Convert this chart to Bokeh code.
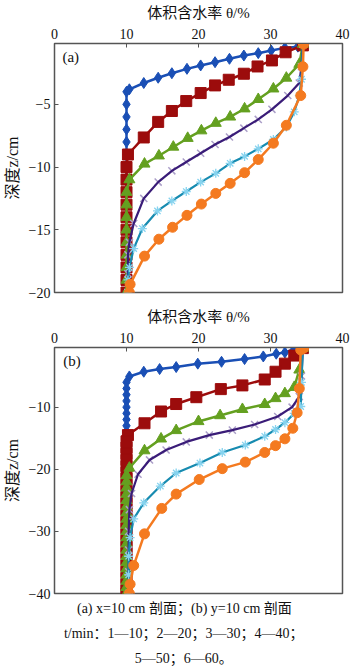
from bokeh.plotting import figure
from bokeh.layouts import column
from bokeh.models import Range1d, FixedTicker, Label, ColumnDataSource
from bokeh.core.properties import value
from bokeh.embed import file_html
from bokeh.resources import INLINE

# ---------------- data: panel (a) x=10 cm profile ----------------
x_ticks = [0, 10, 20, 30, 40]
a_yticks = [-20, -15, -10, -5]
a_ylabels = ["\u221220", "\u221215", "\u221210", "\u22125"]
b_yticks = [-40, -30, -20, -10]
b_ylabels = ["\u221240", "\u221230", "\u221220", "\u221210"]

a1_x = [34.5, 33.8, 32.0, 30.1, 28.3, 26.3, 24.3, 22.3, 20.3, 18.4, 16.3, 14.4, 12.4, 10.4, 10.0, 10.0, 10.0, 10.0, 10.0, 10.0, 10.0, 10.0, 10.0, 10.0, 10.0, 10.0, 10.0, 10.0, 10.0, 10.0, 10.0, 10.0]
a1_z = [-0.2, -0.4, -0.5, -0.71, -0.92, -1.11, -1.37, -1.64, -1.9, -2.17, -2.52, -2.88, -3.3, -3.8, -4, -5, -6, -7, -8, -9, -10, -11, -12, -13, -14, -15, -16, -17, -18, -19, -20, -20]

a2_x = [34.5, 32.1, 30.2, 28.2, 26.3, 24.2, 22.3, 20.3, 18.3, 16.3, 14.4, 12.4, 10.2, 10.0, 10.0, 10.0, 10.0, 10.0, 10.0, 10.0, 10.0, 10.0, 10.0, 10.0]
a2_z = [-0.3, -0.85, -1.5, -1.98, -2.56, -3.04, -3.49, -4.1, -4.74, -5.53, -6.4, -7.64, -9.0, -10, -11, -12, -13, -14, -15, -16, -17, -18, -19, -20]

a3_x = [34.5, 34.0, 32.2, 30.4, 28.3, 26.4, 24.4, 22.4, 20.4, 18.5, 16.5, 14.5, 12.5, 10.4, 10.0, 10.0, 10.0, 10.0, 10.0, 10.0, 10.0, 10.0, 10.0, 10.0]
a3_z = [-0.2, -1.8, -2.9, -3.76, -4.6, -5.35, -6.0, -6.5, -7.1, -7.7, -8.4, -9.1, -9.75, -11.0, -12, -13, -14, -15, -16, -17, -18, -19, -20, -20]

a4_x = [34.5, 34.3, 34.0, 32.4, 30.2, 28.3, 26.3, 24.3, 22.3, 20.3, 18.3, 16.3, 14.4, 12.4, 11.0, 10.4, 10.2, 10.2, 10.2]
a4_z = [-0.2, -2.0, -3.3, -4.3, -5.4, -6.2, -6.9, -7.6, -8.2, -8.9, -9.6, -10.3, -11.2, -12.5, -14.5, -16.0, -17.0, -18.5, -20]

a5_x = [34.5, 34.3, 34.0, 33.3, 32.2, 30.4, 28.3, 26.4, 24.4, 22.4, 20.3, 18.3, 16.3, 14.3, 12.2, 11.0, 10.4, 10.2, 10.2]
a5_z = [-0.2, -3.0, -4.3, -5.6, -6.8, -7.8, -8.55, -9.15, -9.7, -10.5, -11.2, -11.95, -12.7, -13.5, -14.9, -16.5, -18.0, -19.0, -20]

a6_x = [34.6, 34.5, 34.2, 32.2, 30.4, 28.3, 26.4, 24.4, 22.4, 20.4, 18.4, 16.4, 14.5, 12.5, 10.5, 10.4]
a6_z = [-0.2, -2.0, -4.3, -6.67, -8.1, -9.4, -10.45, -11.3, -12.1, -12.95, -13.85, -14.8, -15.75, -17.1, -19.35, -20]

# ---------------- data: panel (b) y=10 cm profile ----------------
b1_x = [34.5, 33.3, 32.0, 30.8, 29.0, 26.4, 23.2, 19.9, 16.9, 14.6, 12.4, 10.4, 10.0, 10.0, 10.0, 10.0, 10.0, 10.0, 10.0, 10.0, 10.0, 10.0, 10.0, 10.0, 10.0, 10.0, 10.0, 10.0, 10.0, 10.0, 10.0, 10.0, 10.0, 10.0, 10.0, 10.0, 10.0, 10.0, 10.0, 10.0, 10.0, 10.0, 10.0, 10.0, 10.0, 10.0]
b1_z = [-0.5, -0.65, -1.2, -1.4, -1.84, -2.26, -2.7, -3.0, -3.55, -3.87, -4.3, -5.06, -6, -7, -8, -9, -10, -11, -12, -13, -14, -15, -16, -17, -18, -19, -20, -21, -22, -23, -24, -25, -26, -27, -28, -29, -30, -31, -32, -33, -34, -35, -36, -37, -38, -40]

b2_x = [34.5, 33.3, 32.0, 30.7, 29.2, 26.1, 23.1, 19.7, 16.9, 14.8, 12.5, 10.2, 10.0, 10.0, 10.0, 10.0, 10.0, 10.0, 10.0, 10.0, 10.0, 10.0, 10.0, 10.0, 10.0, 10.0, 10.0, 10.0, 10.0, 10.0, 10.0, 10.0, 10.0, 10.0, 10.0, 10.0, 10.0, 10.0]
b2_z = [-0.5, -1.7, -3.0, -4.3, -5.55, -6.5, -7.1, -8.4, -9.5, -10.7, -12.6, -14.5, -15.5, -16.5, -17.5, -18.5, -19.5, -20.5, -21.5, -22.5, -23.5, -24.5, -25.5, -26.5, -27.5, -28.5, -29.5, -30.5, -31.5, -32.5, -33.5, -34.5, -35.5, -36.5, -37.5, -38.5, -39.5, -40]

b3_x = [34.5, 34.0, 33.3, 32.0, 30.7, 29.2, 26.1, 23.0, 20.0, 16.9, 14.8, 12.5, 10.4, 10.0, 10.0, 10.0, 10.0, 10.0, 10.0, 10.0, 10.0, 10.0, 10.0, 10.0, 10.0, 10.0, 10.0, 10.0, 10.0, 10.0, 10.0, 10.0, 10.0, 10.0]
b3_z = [-0.5, -4.0, -6.8, -7.8, -8.6, -9.55, -10.35, -11.35, -12.3, -13.75, -15.1, -17.0, -19.8, -21, -22, -23, -24, -25, -26, -27, -28, -29, -30, -31, -32, -33, -34, -35, -36, -37, -38, -39, -40, -40]

b4_x = [34.5, 34.3, 34.0, 33.0, 31.0, 27.8, 24.7, 21.5, 18.3, 15.5, 13.2, 11.6, 10.7, 10.4, 10.3, 10.3, 10.3, 10.3]
b4_z = [-0.5, -5.0, -8.3, -10.0, -11.5, -12.8, -13.7, -14.5, -15.6, -16.9, -18.5, -20.8, -23.9, -26.5, -30, -33, -36.5, -40]

b5_x = [34.5, 34.3, 34.2, 33.3, 32.0, 30.7, 29.2, 26.5, 23.3, 20.2, 16.9, 14.7, 12.4, 11.0, 10.5, 10.3, 10.3, 10.3]
b5_z = [-0.5, -6.0, -9.9, -11.0, -12.5, -13.6, -14.7, -16.1, -17.3, -19.0, -20.6, -22.7, -25.4, -28.0, -31.0, -34, -37, -40]

b6_x = [34.6, 34.2, 34.0, 33.7, 33.1, 32.0, 30.7, 29.2, 26.5, 23.3, 20.1, 16.9, 14.9, 12.5, 11.0, 10.5, 10.4]
b6_z = [-0.5, -0.8, -7.0, -10.9, -13.4, -15.1, -16.2, -17.3, -18.85, -19.9, -21.65, -24.0, -26.3, -30.4, -35.5, -38.5, -40]

x_title = "体积含水率 \u03b8/%"
y_title = "深度z/cm"
caption = ["(a) x=10 cm 剖面；(b) y=10 cm  剖面",
           "t/min：1—10；2—20；3—30；4—40；",
           "5—50；6—60。"]

# ---------------- styles ----------------
STY = [
    dict(line="#1a4fb5", marker="diamond", size=11, fill="#1a4fb5", edge="#1a4fb5", lw=2.5, mlw=1, under=False),
    dict(line="#9c0c0c", marker="square", size=11, fill="#9c0c0c", edge="#9c0c0c", lw=2.5, mlw=1, under=False),
    dict(line="#64a020", marker="triangle", size=11, fill="#64a020", edge="#64a020", lw=2.5, mlw=1, under=False),
    dict(line="#3a1c78", marker="x", size=10, fill=None, edge="#ab9fc8", lw=2.2, mlw=1.5, under=True),
    dict(line="#178bb0", marker="asterisk", size=9, fill=None, edge="#86d3ef", lw=2.2, mlw=1.3, under=False),
    dict(line="#f47a20", marker="circle", size=10, fill="#f47a20", edge="#f47a20", lw=2.5, mlw=1, under=False),
]

SERIF_CJK = "'Liberation Serif', 'Noto Sans CJK SC', serif"


def panel(series, y_lo, y_hi, yticks, ylabels, tag, tag_x, tag_y, height, top_b, bot_b):
    p = figure(width=350, height=height, x_range=Range1d(0, 40), y_range=Range1d(y_lo, y_hi),
               x_axis_location="above", output_backend="svg", toolbar_location=None,
               min_border_left=50, min_border_right=8, min_border_top=top_b, min_border_bottom=bot_b)
    p.grid.visible = False
    p.outline_line_color = "#555555"
    p.outline_line_width = 1.5
    p.xaxis.ticker = FixedTicker(ticks=x_ticks)
    p.yaxis.ticker = FixedTicker(ticks=yticks)
    p.yaxis.major_label_overrides = {t: l for t, l in zip(yticks, ylabels)}
    p.xaxis.axis_label = x_title
    p.yaxis.axis_label = y_title
    for ax in (p.xaxis[0], p.yaxis[0]):
        ax.axis_line_color = "#555555"
        ax.major_tick_in = 4
        ax.major_tick_out = 0
        ax.minor_tick_in = 0
        ax.minor_tick_out = 0
        ax.major_tick_line_color = "#555555"
        ax.major_label_text_font = "'Liberation Serif', serif"
        ax.major_label_text_font_size = "14px"
        ax.major_label_text_color = "#111111"
        ax.major_label_standoff = 5
        ax.axis_label_text_font = SERIF_CJK
        ax.axis_label_text_font_size = "15px"
        ax.axis_label_text_font_style = "normal"
        ax.axis_label_text_color = "#111111"
        ax.axis_label_standoff = 5
    p.yaxis.major_label_standoff = 4
    p.yaxis.axis_label_text_font_size = "16px"
    for (xs, zs), s in zip(series, STY):
        src = ColumnDataSource(dict(x=xs, z=zs))
        if s["under"]:
            p.scatter("x", "z", source=src, marker=s["marker"], size=s["size"],
                      line_color=s["edge"], fill_color=s["fill"], line_width=s["mlw"])
            p.line("x", "z", source=src, line_color=s["line"], line_width=s["lw"])
        else:
            p.line("x", "z", source=src, line_color=s["line"], line_width=s["lw"])
            p.scatter("x", "z", source=src, marker=s["marker"], size=s["size"],
                      line_color=s["edge"], fill_color=s["fill"], line_width=s["mlw"])
    p.add_layout(Label(x=tag_x, y=tag_y, text=tag, text_font="'Liberation Serif', serif",
                       text_font_size="15px", text_baseline="middle", text_align="left",
                       text_color="#111111"))
    return p


pa = panel([(a1_x, a1_z), (a2_x, a2_z), (a3_x, a3_z), (a4_x, a4_z), (a5_x, a5_z), (a6_x, a6_z)],
           -20, -0.15, a_yticks, a_ylabels, "(a)", 1.1, -1.2, 300, 43, 8)
pb = panel([(b1_x, b1_z), (b2_x, b2_z), (b3_x, b3_z), (b4_x, b4_z), (b5_x, b5_z), (b6_x, b6_z)],
           -40, -0.4, b_yticks, b_ylabels, "(b)", 1.2, -2.65, 300, 47, 7)

pc = figure(width=350, height=69, x_range=Range1d(0, 350), y_range=Range1d(0, 69),
            x_axis_location=None, y_axis_location=None, output_backend="svg",
            toolbar_location=None, min_border=0)
pc.grid.visible = False
pc.outline_line_color = None
cap_src = ColumnDataSource(dict(x=[160, 157, 157], y=[61, 36, 11], t=caption))
pc.text("x", "y", text="t", source=cap_src, text_font=value(SERIF_CJK), text_font_size="14px",
        text_align="center", text_baseline="middle", text_color="#111111")

layout = column(pa, pb, pc, spacing=0)
open("out.html", "w").write(file_html(layout, INLINE))
